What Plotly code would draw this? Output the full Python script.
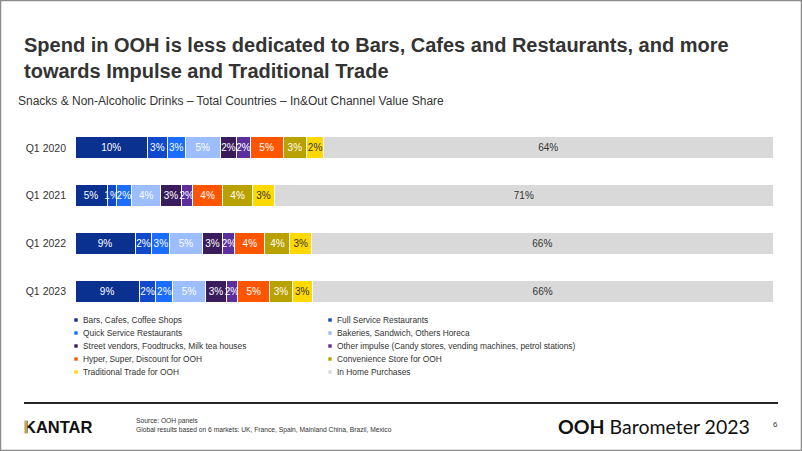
import plotly.graph_objects as go

periods = ["Q1 2020", "Q1 2021", "Q1 2022", "Q1 2023"]

channels = [
    "Bars, Cafes, Coffee Shops",
    "Full Service Restaurants",
    "Quick Service Restaurants",
    "Bakeries, Sandwich, Others Horeca",
    "Street vendors, Foodtrucks, Milk tea houses",
    "Other impulse (Candy stores, vending machines, petrol stations)",
    "Hyper, Super, Discount for OOH",
    "Convenience Store for OOH",
    "Traditional Trade for OOH",
    "In Home Purchases",
]

# value share (%) per channel, in order of periods
bars_cafes = [10.4, 4.6, 8.6, 9.2]
full_service = [2.8, 1.3, 2.4, 2.4]
quick_service = [2.6, 2.2, 2.6, 2.4]
bakeries = [5.0, 4.2, 4.6, 4.7]
street_vendors = [2.4, 2.9, 3.0, 3.0]
other_impulse = [1.9, 1.6, 1.7, 1.6]
hyper_super = [4.7, 4.4, 4.3, 4.6]
convenience = [3.4, 4.2, 3.6, 3.2]
traditional = [2.4, 3.2, 3.1, 2.9]
in_home = [64.4, 71.4, 66.1, 66.0]

series = [bars_cafes, full_service, quick_service, bakeries, street_vendors,
          other_impulse, hyper_super, convenience, traditional, in_home]

colors = ["#0A3190", "#1149CC", "#1A6DFF", "#9CBEFF", "#3A1C5C",
          "#5C2F9E", "#FF5500", "#B9A100", "#FFD900", "#D9D9D9"]
text_colors = ["#FFFFFF"] * 8 + ["#333333", "#333333"]

W, H = 802, 451
ML, MR, MT, MB = 75, 29, 124, 136
PW, PH = W - ML - MR, H - MT - MB


def px(x):
    return (x - ML) / PW


def py(y):
    return (H - MB - y) / PH


fig = go.Figure()
for name, vals, col, tcol in zip(channels, series, colors, text_colors):
    fig.add_trace(go.Bar(
        y=periods, x=vals, name=name, orientation="h",
        marker=dict(color=col, line=dict(color="#FFFFFF", width=1)),
        texttemplate="%{x:.0f}%", textposition="inside", textangle=0,
        insidetextanchor="middle",
        textfont=dict(color=tcol, size=10, family="Liberation Sans, Arial"),
        showlegend=False, hoverinfo="skip",
    ))

font_main = "Liberation Sans, Arial, sans-serif"
ann = []
shapes = []

# Title and subtitle
ann.append(dict(
    text="<b>Spend in OOH is less dedicated to Bars, Cafes and Restaurants, and more<br>towards Impulse and Traditional Trade</b>",
    x=px(22), y=py(57.5), xref="paper", yref="paper", xanchor="left", yanchor="middle",
    align="left", showarrow=False,
    font=dict(family=font_main, size=20, color="#333333")))
ann.append(dict(
    text="Snacks &amp; Non-Alcoholic Drinks – Total Countries – In&amp;Out Channel Value Share",
    x=px(16), y=py(101), xref="paper", yref="paper", xanchor="left", yanchor="middle",
    showarrow=False,
    font=dict(family=font_main, size=12, color="#333333")))

# Legend (two columns)
row_y = [320, 333, 346, 359, 372]
for i, (name, col) in enumerate(zip(channels, colors)):
    r, c = divmod(i, 2)
    sx = 76 if c == 0 else 330
    yy = row_y[r]
    shapes.append(dict(type="rect", xref="paper", yref="paper",
                       x0=px(sx - 1.7), x1=px(sx + 1.7), y0=py(yy + 1.7), y1=py(yy - 1.7),
                       fillcolor=col, line=dict(width=0)))
    ann.append(dict(text=name, x=px(sx + 5), y=py(yy), xref="paper", yref="paper",
                    xanchor="left", yanchor="middle", showarrow=False,
                    font=dict(family=font_main, size=8.4, color="#333333")))

# Footer
shapes.append(dict(type="line", xref="paper", yref="paper",
                   x0=px(24), x1=px(778), y0=py(403), y1=py(403),
                   line=dict(color="#262626", width=2)))
ann.append(dict(text="<b>KANTAR</b>", x=px(22), y=py(427), xref="paper", yref="paper",
                xanchor="left", yanchor="middle", showarrow=False,
                font=dict(family=font_main, size=16.5, color="#111111")))
ann.append(dict(text=" ", x=px(25.6), y=py(426.7), xref="paper", yref="paper",
                xanchor="center", yanchor="middle", showarrow=False,
                width=2.4, height=11.5, borderpad=0, bgcolor="#C9A04E",
                font=dict(size=1)))
ann.append(dict(text="Source: OOH panels<br>Global results based on 6 markets: UK, France, Spain, Mainland China, Brazil, Mexico",
                x=px(134), y=py(425), xref="paper", yref="paper", xanchor="left", yanchor="middle",
                align="left", showarrow=False,
                font=dict(family=font_main, size=6.7, color="#333333")))
ann.append(dict(text="<b>OOH</b> Barometer 2023", x=px(752), y=py(426), xref="paper", yref="paper",
                xanchor="right", yanchor="middle", showarrow=False,
                font=dict(family="Lato, " + font_main, size=19.5, color="#111111")))
ann.append(dict(text="6", x=px(775), y=py(424), xref="paper", yref="paper",
                xanchor="center", yanchor="middle", showarrow=False,
                font=dict(family=font_main, size=8, color="#333333")))

# Slide border
shapes.append(dict(type="rect", xref="paper", yref="paper",
                   x0=px(0.5), x1=px(801.5), y0=py(450.5), y1=py(0.5),
                   line=dict(color="#8C8C8C", width=1.5)))

fig.update_layout(
    barmode="stack", bargap=0.54,
    width=W, height=H,
    margin=dict(l=ML, r=MR, t=MT, b=MB, pad=0),
    paper_bgcolor="white", plot_bgcolor="white",
    xaxis=dict(range=[0, 100], visible=False, fixedrange=True),
    yaxis=dict(autorange="reversed", showgrid=False, zeroline=False, showline=False,
               ticks="", ticklabelstandoff=8,
               tickfont=dict(family=font_main, size=10.5, color="#333333")),
    uniformtext=dict(minsize=10, mode="show"),
    annotations=ann, shapes=shapes,
    showlegend=False,
)

fig.write_html("out.html")
